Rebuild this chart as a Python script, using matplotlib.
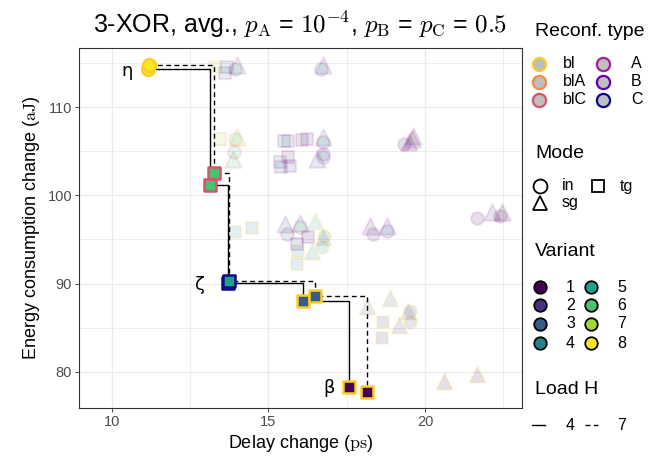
#!/usr/bin/env python3
"""
Pareto front of 3-XOR reconfigurations: delay change vs energy change.
"""

import matplotlib
matplotlib.use("Agg")
import matplotlib.pyplot as plt
import numpy as np

plt.rcParams["font.family"] = ["Liberation Sans", "DejaVu Sans"]
plt.rcParams["mathtext.fontset"] = "cm"

# legend categories
reconf_types = ["bl", "blA", "blC", "A", "B", "C"]
modes = ["in", "sg", "tg"]
variants = [1, 2, 3, 4, 5, 6, 7, 8]
loads = [4, 7]

# background (non-optimal) configurations
bg_x = [13.30, 13.62, 13.68, 14.00, 13.94, 16.75, 16.68,
        13.46, 14.00, 13.94, 13.90, 13.87,
        15.50, 15.63, 16.08, 16.24, 16.75, 16.75, 16.56, 16.75, 16.75,
        15.37, 15.63, 15.40, 15.70,
        19.33, 19.59, 19.62, 19.50,
        21.66, 22.14, 22.46, 22.40,
        18.25, 18.34, 18.80, 18.80,
        13.94, 14.48, 15.53, 15.60, 16.00, 16.00, 16.50, 16.27, 15.90,
        16.78, 16.75, 16.40, 16.70, 15.95, 15.90,
        18.15, 18.88, 19.46, 19.52, 19.52, 19.17, 18.67, 18.64,
        20.60, 21.66]
bg_y = [114.6, 113.9, 114.6, 114.8, 114.3, 114.8, 114.3,
        106.35, 106.6, 106.35, 104.9, 104.1,
        106.2, 106.2, 106.3, 106.4, 106.6, 106.1, 104.1, 104.65, 104.3,
        103.75, 104.3, 103.2, 103.3,
        105.8, 106.35, 106.7, 106.1,
        97.4, 98.1, 98.1, 97.65,
        96.5, 95.6, 96.5, 96.0,
        95.8, 96.3, 96.75, 95.6, 96.9, 96.4, 97.1, 95.3, 94.5,
        95.4, 95.3, 93.7, 94.2, 93.7, 92.2,
        87.5, 88.4, 86.9, 86.9, 85.7, 85.3, 85.7, 83.8,
        79.0, 79.8]
bg_mode = ["tg", "tg", "tg", "sg", "in", "sg", "in",
           "tg", "sg", "in", "in", "sg",
           "tg", "tg", "tg", "tg", "sg", "in", "sg", "in", "in",
           "tg", "tg", "tg", "tg",
           "in", "sg", "sg", "sg",
           "in", "sg", "sg", "in",
           "sg", "in", "sg", "in",
           "tg", "tg", "sg", "in", "sg", "in", "sg", "tg", "tg",
           "in", "sg", "sg", "in", "tg", "tg",
           "sg", "sg", "sg", "in", "in", "sg", "tg", "tg",
           "sg", "sg"]
bg_reconf = ["bl", "A", "A", "A", "A", "A", "A",
             "blA", "blA", "blA", "blC", "blC",
             "A", "A", "A", "A", "A", "A", "A", "A", "A",
             "A", "A", "A", "A",
             "A", "A", "A", "A",
             "A", "A", "A", "A",
             "A", "A", "A", "A",
             "bl", "bl", "A", "A", "A", "A", "bl", "A", "B",
             "bl", "bl", "bl", "bl", "bl", "bl",
             "bl", "bl", "bl", "bl", "bl", "bl", "bl", "bl",
             "bl", "bl"]
bg_variant = [7, 4, 4, 6, 3, 4, 3,
              7, 7, 6, 6, 6,
              4, 3, 2, 2, 5, 3, 3, 2, 4,
              4, 2, 3, 2,
              1, 2, 1, 1,
              1, 2, 1, 1,
              2, 2, 3, 3,
              4, 4, 3, 3, 4, 6, 5, 1, 2,
              4, 3, 4, 4, 4, 4,
              3, 3, 2, 2, 2, 2, 2, 2,
              1, 1]

# Pareto-optimal configurations, one path per load
front_x = {4: [11.15, 13.13, 13.72, 16.10, 17.57],
           7: [11.20, 13.26, 13.75, 16.48, 18.15]}
front_y = {4: [114.3, 101.2, 90.05, 88.0, 78.3],
           7: [114.8, 102.5, 90.3, 88.6, 77.7]}
front_mode = ["in", "tg", "tg", "tg", "tg"]
front_reconf = ["bl", "blC", "C", "bl", "bl"]
front_variant = [8, 6, 5, 3, 1]
front_names = ["η", "", "ζ", "", "β"]

reconf_colors = dict(zip(reconf_types,
                         [plt.cm.plasma(v) for v in np.linspace(0.9, 0.0, 6)]))
variant_colors = dict(zip(variants, [plt.cm.viridis(v) for v in np.linspace(0, 1, 8)]))
mode_markers = {"in": "o", "sg": "^", "tg": "s"}
mode_sizes = {"in": 85, "sg": 140, "tg": 68}
load_styles = {4: "-", 7: (0, (3.5, 2.5))}
name_offsets = [-11, 0, -17, 0, -10]

W, H = 672, 466
fig = plt.figure(figsize=(W / 100, H / 100), dpi=100)
ax = fig.add_axes([79 / W, 1 - 408 / H, (522 - 79) / W, (408 - 48) / H])

for x, y, m, r, v in zip(bg_x, bg_y, bg_mode, bg_reconf, bg_variant):
    ax.scatter(x, y, s=mode_sizes[m], marker=mode_markers[m],
               facecolor=variant_colors[v], edgecolor=reconf_colors[r],
               linewidth=1.5, alpha=0.13, zorder=2)

for h in loads:
    ax.plot(front_x[h], front_y[h], color="black", lw=1.0,
            linestyle=load_styles[h], drawstyle="steps-post", zorder=3)

for h in loads:
    for x, y, m, r, v in zip(front_x[h], front_y[h], front_mode,
                             front_reconf, front_variant):
        ax.scatter(x, y, s=mode_sizes[m], marker=mode_markers[m],
                   facecolor=variant_colors[v], edgecolor=reconf_colors[r],
                   linewidth=1.8, zorder=4)

for x, y, name, dx in zip(front_x[4], front_y[4], front_names, name_offsets):
    if name:
        ax.annotate(name, (x, y), xytext=(dx, -1), textcoords="offset points",
                    ha="right", va="center", fontsize=13, family="DejaVu Sans")

ax.set_xlim(8.95, 23.1)
ax.set_ylim(75.9, 116.7)
ax.set_xticks([10, 15, 20])
ax.set_yticks([80, 90, 100, 110])
ax.set_xticks([12.5, 17.5, 22.5], minor=True)
ax.set_yticks([85, 95, 105, 115], minor=True)
ax.grid(True, which="major", color="#EBEBEB", lw=1.0, zorder=0)
ax.grid(True, which="minor", color="#EBEBEB", lw=0.6, zorder=0)
ax.set_axisbelow(True)
ax.tick_params(which="major", length=3, width=0.6, color="#333333",
               labelcolor="#4D4D4D", labelsize=10.5, pad=2)
ax.tick_params(which="minor", length=0)
for sp in ax.spines.values():
    sp.set_color("#333333")
    sp.set_linewidth(0.8)

ax.set_xlabel(r"Delay change ($\mathrm{ps}$)", fontsize=13, labelpad=3)
ax.set_ylabel(r"Energy consumption change ($\mathrm{aJ}$)", fontsize=13, labelpad=4)
ax.set_title(r"3-XOR, avg., $p_\mathrm{A}$ = $10^{-4}$, $p_\mathrm{B}$ = $p_\mathrm{C}$ = $0.5$",
             fontsize=18, pad=11)

# legends, laid out in pixel coordinates on an overlay
lax = fig.add_axes([0, 0, 1, 1])
lax.set_xlim(0, W)
lax.set_ylim(H, 0)
lax.axis("off")
title_kw = dict(fontsize=14, ha="left", va="center")
label_kw = dict(fontsize=11.5, ha="left", va="center")

lax.text(535, 32, "Reconf. type", **title_kw)
for i, r in enumerate(reconf_types):
    mx, ty = (539, 563) if i < 3 else (603, 631)
    my = [64, 82, 100][i % 3]
    lax.plot(mx, my, marker="o", markersize=9.5, markerfacecolor="#BEBEBE",
             markeredgecolor=reconf_colors[r], markeredgewidth=1.6)
    lax.text(ty, my, r, **label_kw)

lax.text(535, 153, "Mode", **title_kw)
for m, (mx, my, ty) in zip(modes, [(540, 186, 562), (540, 203, 562), (598, 186, 620)]):
    lax.plot(mx, my, marker=mode_markers[m], markersize=10 if m != "tg" else 8.5,
             markerfacecolor="none", markeredgecolor="black", markeredgewidth=1.3)
    lax.text(ty, my, m, **label_kw)

lax.text(535, 252, "Variant", **title_kw)
for i, v in enumerate(variants):
    mx, ty = (540, 566) if i < 4 else (591, 617)
    my = [287, 305, 324, 343][i % 4]
    lax.plot(mx, my, marker="o", markersize=9, markerfacecolor=variant_colors[v],
             markeredgecolor="black", markeredgewidth=1.3)
    lax.text(ty, my, str(v), **label_kw)

lax.text(535, 390, "Load H", **title_kw)
for h, (x0, x1, ty) in zip(loads, [(532, 545, 566), (585, 598, 617)]):
    lax.plot([x0, x1], [425, 425], color="black", lw=1.0, linestyle=load_styles[h])
    lax.text(ty, 425, str(h), **label_kw)

plt.savefig("out.png", dpi=100)
